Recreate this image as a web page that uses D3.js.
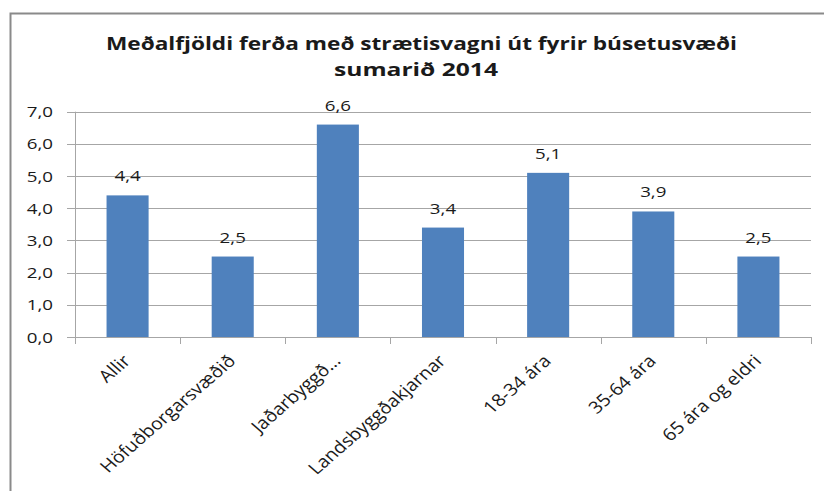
<!DOCTYPE html>
<html lang="is">
<head>
<meta charset="UTF-8">
<script src="https://cdn.jsdelivr.net/npm/d3@7"></script>
<title>Meðalfjöldi ferða</title>
<style>
  body { margin: 0; background: #fff; }
  svg text { font-family: "Open Sans", "Noto Sans", sans-serif; fill: #1a1a1a; }
</style>
</head>
<body>
<svg id="chart" width="824" height="491"></svg>
<script>
// gögn
var categories = ["Allir", "Höfuðborgarsvæðið", "Jaðarbyggð…", "Landsbyggðakjarnar", "18-34 ára", "35-64 ára", "65 ára og eldri"];
var values = [4.4, 2.5, 6.6, 3.4, 5.1, 3.9, 2.5];
var yTicks = [0, 1, 2, 3, 4, 5, 6, 7];
var titleLines = ["Meðalfjöldi ferða með strætisvagni út fyrir búsetusvæði", "sumarið 2014"];

var svg = d3.select("#chart"),
    pLeft = 75, pRight = 811, pTop = 111.7, pBottom = 337;

var fmt = function(v) { return d3.format(".1f")(v).replace(".", ","); };

// rammi
svg.append("path")
    .attr("d", "M10.5,491 L10.5,13.5 L824,13.5")
    .attr("fill", "none").attr("stroke", "#8a8a8a").attr("stroke-width", 2);

var titleW = [631, 164], titleX = [421.5, 416];
svg.selectAll("text.title").data(titleLines).enter().append("text")
    .attr("class", "title")
    .attr("x", function(d, i) { return titleX[i] - titleW[i] / 2; })
    .attr("y", function(d, i) { return 49.5 + i * 26; })
    .attr("textLength", function(d, i) { return titleW[i]; })
    .attr("lengthAdjust", "spacingAndGlyphs")
    .style("font-size", "18px").style("font-weight", "bold")
    .text(function(d) { return d; });

var x = d3.scaleBand().domain(categories).range([pLeft, pRight]).paddingInner(0.6).paddingOuter(0.3);
var xb = d3.scaleBand().domain(categories).range([pLeft, pRight]);
var y = d3.scaleLinear().domain([0, 7]).range([pBottom, pTop]);

// gridlines
svg.selectAll("line.grid").data(yTicks).enter().append("line")
    .attr("x1", pLeft - 8).attr("x2", pRight)
    .attr("y1", function(d) { return Math.round(y(d)) + 0.5; })
    .attr("y2", function(d) { return Math.round(y(d)) + 0.5; })
    .attr("stroke", "#a6a6a6");

svg.selectAll("text.ylab").data(yTicks).enter().append("text")
    .attr("text-anchor", "end")
    .attr("transform", function(d) { return "translate(53," + (y(d) + 5.5) + ") scale(1.25,1)"; })
    .style("font-size", "15px")
    .text(fmt);

// y ás
svg.append("line").attr("x1", pLeft + 0.5).attr("x2", pLeft + 0.5)
    .attr("y1", pTop).attr("y2", pBottom + 7).attr("stroke", "#a6a6a6");

// x ás ticks
var bounds = categories.map(function(c) { return xb(c) + xb.bandwidth(); });
svg.selectAll("line.xtick").data(bounds).enter().append("line")
    .attr("x1", function(d) { return Math.round(d) + 0.5; })
    .attr("x2", function(d) { return Math.round(d) + 0.5; })
    .attr("y1", pBottom).attr("y2", pBottom + 7)
    .attr("stroke", "#a6a6a6");

svg.selectAll("rect.bar").data(values).enter().append("rect")
    .attr("x", function(d, i) { return x(categories[i]); })
    .attr("width", x.bandwidth())
    .attr("y", function(d) { return y(d); })
    .attr("height", function(d) { return y(0) - y(d); })
    .attr("fill", "#4f81bd");

svg.selectAll("text.val").data(values).enter().append("text")
    .attr("text-anchor", "middle")
    .attr("transform", function(d, i) {
        return "translate(" + (x(categories[i]) + x.bandwidth() / 2) + "," + (y(d) - 14) + ") scale(1.25,1)";
    })
    .style("font-size", "15px")
    .text(fmt);

svg.selectAll("text.xlab").data(categories).enter().append("text")
    .attr("text-anchor", "end")
    .attr("transform", function(d) {
        return "translate(" + (xb(d) + xb.bandwidth() / 2 + 4) + "," + (pBottom + 25) + ") scale(1.15,1) rotate(-45)";
    })
    .style("font-size", "17px")
    .text(function(d) { return d; });
</script>
</body>
</html>
